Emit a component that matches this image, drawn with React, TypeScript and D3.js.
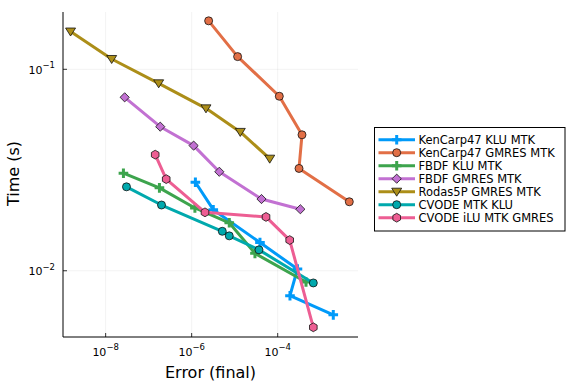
import React from "react";
import * as d3 from "d3";

// work-precision data (error, time in s)
const kencarpKluErr = [1.22e-6, 3.18e-6, 3.87e-5, 2.88e-4, 1.93e-4, 1.96e-3];
const kencarpKluTime = [0.0275, 0.0201, 0.0138, 0.0102, 0.00752, 0.00604];
const kencarpGmresErr = [2.48e-6, 1.17e-5, 1.09e-4, 3.67e-4, 3.13e-4, 4.62e-3];
const kencarpGmresTime = [0.174, 0.1156, 0.0735, 0.0473, 0.0322, 0.022];
const fbdfKluErr = [2.59e-8, 1.78e-7, 1.19e-6, 7.48e-6, 2.96e-5, 4.55e-4];
const fbdfKluTime = [0.0305, 0.0258, 0.0205, 0.0173, 0.0122, 0.0088];
const fbdfGmresErr = [2.77e-8, 1.86e-7, 1.11e-6, 4.39e-6, 4.2e-5, 3.36e-4];
const fbdfGmresTime = [0.0726, 0.0519, 0.0418, 0.031, 0.0227, 0.0202];
const rodasErr = [1.53e-9, 1.38e-8, 1.71e-7, 2.15e-6, 1.35e-5, 6.52e-5];
const rodasTime = [0.154, 0.1125, 0.0852, 0.064, 0.0489, 0.036];
const cvodeKluErr = [3.05e-8, 1.99e-7, 5.15e-6, 7.48e-6, 3.67e-5, 6.73e-4];
const cvodeKluTime = [0.0261, 0.0212, 0.0157, 0.0149, 0.0127, 0.0087];
const cvodeGmresErr = [1.42e-7, 2.56e-7, 2.04e-6, 5.35e-5, 1.9e-4, 6.73e-4];
const cvodeGmresTime = [0.0377, 0.0285, 0.0195, 0.0185, 0.0142, 0.00524];

const seriesNames = [
  "KenCarp47 KLU MTK",
  "KenCarp47 GMRES MTK",
  "FBDF KLU MTK",
  "FBDF GMRES MTK",
  "Rodas5P GMRES MTK",
  "CVODE MTK KLU",
  "CVODE iLU MTK GMRES",
];
const seriesErr = [kencarpKluErr, kencarpGmresErr, fbdfKluErr, fbdfGmresErr, rodasErr, cvodeKluErr, cvodeGmresErr];
const seriesTime = [kencarpKluTime, kencarpGmresTime, fbdfKluTime, fbdfGmresTime, rodasTime, cvodeKluTime, cvodeGmresTime];
const markers = ["cross", "circle", "cross", "diamond", "dtriangle", "circle", "hexagon"];

const xTicks = [1e-8, 1e-6, 1e-4];
const xTickExp = ["−8", "−6", "−4"];
const yTicks = [1e-2, 1e-1];
const yTickExp = ["−2", "−1"];

const colors = ["#009af9", "#e26f46", "#3da44d", "#c271d2", "#ac8e18", "#00a9ad", "#ed5e93"];

const W = 576;
const H = 384;
const plot = { left: 63, right: 358, top: 12, bottom: 337 };
const font = "DejaVu Sans, sans-serif";

const Marker = ({ kind, x, y, color }: { kind: string; x: number; y: number; color: string }) => {
  if (kind === "circle") {
    return <circle cx={x} cy={y} r={4} fill={color} stroke="#111" strokeWidth={0.8} />;
  }
  if (kind === "hexagon") {
    const pts = d3.range(6).map((i) => {
      const a = (Math.PI / 3) * i + Math.PI / 6;
      return `${x + 4.4 * Math.cos(a)},${y + 4.4 * Math.sin(a)}`;
    });
    return <polygon points={pts.join(" ")} fill={color} stroke="#111" strokeWidth={0.8} />;
  }
  if (kind === "diamond") {
    const s = 4.6;
    return (
      <polygon
        points={`${x},${y - s} ${x + s},${y} ${x},${y + s} ${x - s},${y}`}
        fill={color}
        stroke="#111"
        strokeWidth={0.8}
      />
    );
  }
  if (kind === "dtriangle") {
    const s = 5;
    return (
      <polygon
        points={`${x - s},${y - s * 0.7} ${x + s},${y - s * 0.7} ${x},${y + s * 0.9}`}
        fill={color}
        stroke="#111"
        strokeWidth={0.8}
      />
    );
  }
  // cross: thick plus
  const a = 4.8;
  const b = 1.5;
  const p = [
    [-b, -a], [b, -a], [b, -b], [a, -b], [a, b], [b, b],
    [b, a], [-b, a], [-b, b], [-a, b], [-a, -b], [-b, -b],
  ];
  return <polygon points={p.map(([px, py]) => `${x + px},${y + py}`).join(" ")} fill={color} />;
};

export default function App() {
  const x = d3.scaleLog().domain([1.02e-9, 7.36e-3]).range([plot.left, plot.right]);
  const y = d3.scaleLog().domain([4.69e-3, 0.1925]).range([plot.bottom, plot.top]);
  const line = d3
    .line<[number, number]>()
    .x((d) => x(d[0]))
    .y((d) => y(d[1]));

  const legend = { left: 374.5, top: 127.5, right: 565, bottom: 231 };

  return (
    <div style={{ position: "absolute", left: 0, top: 0 }}>
      <svg width={W} height={H} style={{ display: "block", background: "#fff" }} fontFamily={font}>
        {/* grid */}
        {xTicks.map((t) => (
          <line key={"gx" + t} x1={x(t)} x2={x(t)} y1={plot.top} y2={plot.bottom} stroke="#000" strokeOpacity={0.1} strokeWidth={0.5} />
        ))}
        {yTicks.map((t) => (
          <line key={"gy" + t} x1={plot.left} x2={plot.right} y1={y(t)} y2={y(t)} stroke="#000" strokeOpacity={0.1} strokeWidth={0.5} />
        ))}

        {/* series */}
        {seriesNames.map((name, i) => {
          const pts = seriesErr[i].map((e, j) => [e, seriesTime[i][j]] as [number, number]);
          return (
            <g key={name}>
              <path d={line(pts) || ""} fill="none" stroke={colors[i]} strokeWidth={3} strokeLinejoin="round" />
              {pts.map((p, j) => (
                <Marker key={j} kind={markers[i]} x={x(p[0])} y={y(p[1])} color={colors[i]} />
              ))}
            </g>
          );
        })}

        {/* axes */}
        <line x1={plot.left} x2={plot.right} y1={plot.bottom} y2={plot.bottom} stroke="#000" strokeWidth={1} />
        <line x1={plot.left} x2={plot.left} y1={plot.top} y2={plot.bottom} stroke="#000" strokeWidth={1} />
        {xTicks.map((t, i) => (
          <g key={"xt" + t}>
            <line x1={x(t)} x2={x(t)} y1={plot.bottom} y2={plot.bottom - 4} stroke="#000" strokeWidth={0.8} />
            <text x={x(t)} y={355.5} textAnchor="middle" fontSize={11} fill="#000">
              10<tspan dy={-5.5} fontSize={8.5}>{xTickExp[i]}</tspan>
            </text>
          </g>
        ))}
        {yTicks.map((t, i) => (
          <g key={"yt" + t}>
            <line x1={plot.left} x2={plot.left + 4} y1={y(t)} y2={y(t)} stroke="#000" strokeWidth={0.8} />
            <text x={55} y={y(t) + 4.5} textAnchor="end" fontSize={11} fill="#000">
              10<tspan dy={-5.5} fontSize={8.5}>{yTickExp[i]}</tspan>
            </text>
          </g>
        ))}
        <text x={(plot.left + plot.right) / 2} y={377.5} textAnchor="middle" fontSize={16} fill="#000">
          Error (final)
        </text>
        <text
          transform={`translate(18.5, ${(plot.top + plot.bottom) / 2 - 1}) rotate(-90)`}
          textAnchor="middle"
          fontSize={16}
          fill="#000"
        >
          Time (s)
        </text>

        {/* legend */}
        <rect
          x={legend.left}
          y={legend.top}
          width={legend.right - legend.left}
          height={legend.bottom - legend.top}
          fill="#fff"
          stroke="#000"
          strokeWidth={1}
        />
        {seriesNames.map((name, i) => {
          const ly = 139.7 + i * 13;
          return (
            <g key={"lg" + name}>
              <line x1={378.5} x2={415} y1={ly} y2={ly} stroke={colors[i]} strokeWidth={3} />
              <Marker kind={markers[i]} x={396.7} y={ly} color={colors[i]} />
              <text x={418.5} y={ly + 4} fontSize={11.5} fill="#000">
                {name}
              </text>
            </g>
          );
        })}
      </svg>
    </div>
  );
}
